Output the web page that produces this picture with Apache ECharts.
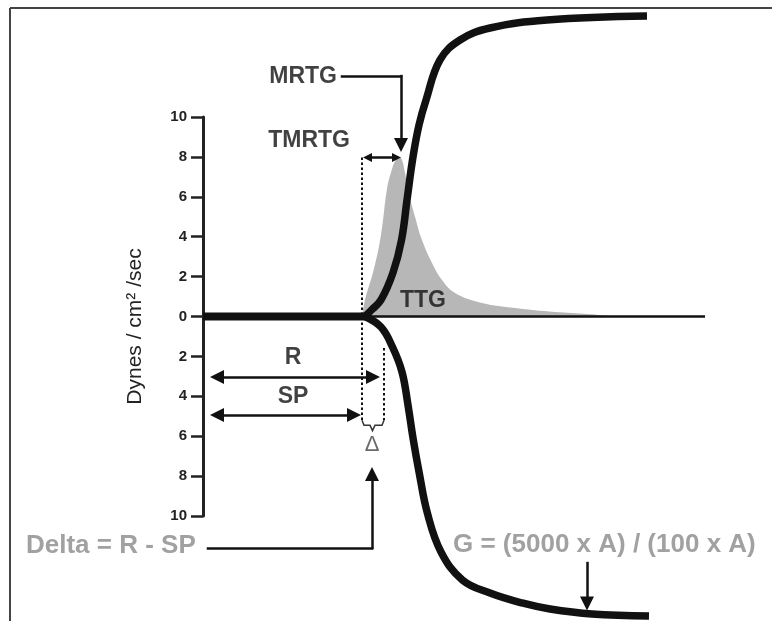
<!DOCTYPE html>
<html><head><meta charset="utf-8">
<script src="https://cdn.jsdelivr.net/npm/echarts@6/dist/echarts.min.js"></script>
<style>html,body{margin:0;padding:0;background:#fff}#main{width:772px;height:621px}</style>
</head><body><div id="main"></div>
<script>
// ---- data (x: arbitrary time units, y: dynes/cm²/sec) ----
const yTickValues = [-10, -8, -6, -4, -2, 0, 2, 4, 6, 8, 10];
const yAxisName = 'Dynes / cm\u00B2 /sec';

const upperCurve = [[32.4,0],[33.8,0.35],[35.6,0.83],[38,2.2],[39.7,3.83],[40.8,5.84],[42,8.0],[43.2,9.6],[44.6,10.85],[47.4,12.86],[51.4,13.86],[57.4,14.46],[68.8,14.86],[88.8,15.06]];
const lowerCurve = [[32.4,0],[35.6,-0.53],[37.9,-1.53],[39.8,-2.78],[41,-4.44],[42,-6.09],[43.2,-7.78],[44.9,-9.88],[47.6,-11.8],[51.9,-13.21],[57.4,-13.86],[63.8,-14.36],[69.4,-14.66],[77.8,-14.91],[89.2,-15.01]];
const ttgCurve = [[31.8,0],[32.4,0.83],[34.2,2.4],[35.6,4.1],[36.8,6.4],[37.7,7.3],[38.6,7.88],[39.2,8.0],[39.8,7.85],[40.4,7.2],[41,6.34],[42.4,5.0],[43.8,3.83],[45.8,2.68],[47.8,1.83],[50.4,1.18],[55.8,0.68],[62.4,0.43],[70.4,0.23],[77,0.13],[82.4,0]];
const baselineThick = [[0,0],[32.4,0]];
const baselineThin = [[32.4,0],[100.4,0]];

// annotation geometry (data units)
const doubleArrows = [ [[2.8,-3.03],[34.0,-3.03]], [[2.8,-4.94],[30.2,-4.94]] ];
const tmrtgArrow = [[32.9,7.97],[38.7,7.97]];
const leaderLines = [ [[27.8,12.05],[39.6,12.05]], [[1.0,-11.6],[33.8,-11.6]] ];
const endArrows = [
  [[39.6,12.05],[39.6,8.6]],
  [[33.8,-11.6],[33.8,-7.9]],
  [[76.8,-12.36],[76.8,-14.39]]
];
const dottedLines = [ [[31.8,7.97],[31.8,-5.2]], [[36.2,-1.58],[36.2,-5.2]] ];
const brace = [[31.8,-5.2],[32.2,-5.45],[33.4,-5.45],[33.9,-5.72],[34.4,-5.45],[35.8,-5.45],[36.2,-5.2]];

const blackLabels = [
  {name:'MRTG', value:[26.8,12.0], pos:'left'},
  {name:'TMRTG', value:[29.4,8.8], pos:'left'},
  {name:'TTG', value:[39.4,0.78], pos:'right'},
  {name:'R', value:[18,-2.08], pos:'inside'},
  {name:'SP', value:[18,-4.04], pos:'inside'}
];
const grayLabels = [
  {name:'Delta = R - SP', value:[-35.4,-11.5], pos:'right'},
  {name:'G = (5000 x A) / (100 x A)', value:[50,-11.45], pos:'right'}
];
const deltaSymbol = [{name:'\u0394', value:[33.8,-6.44], pos:'inside'}];

const FONT = '"Liberation Sans", Arial, Helvetica, sans-serif';
const INK = '#111';

function labelItems(arr) {
  return arr.map(d => ({name:d.name, value:d.value, label:{position:d.pos, distance:0}}));
}

const chart = echarts.init(document.getElementById('main'), null, {renderer:'canvas'});
chart.setOption({
  backgroundColor:'#fff',
  animation:false,
  grid:{left:203, top:117, width:500, height:399},
  xAxis:{type:'value', min:0, max:100, show:false},
  yAxis:{
    type:'value', min:-10, max:10, interval:2,
    axisLine:{show:true, onZero:false, lineStyle:{color:'#222', width:3}},
    axisTick:{show:true, length:12, lineStyle:{color:'#222', width:2.5}},
    axisLabel:{margin:16, formatter:v => String(Math.abs(v)), fontSize:15, fontWeight:'bold', color:'#222', fontFamily:FONT},
    splitLine:{show:false},
    name:yAxisName, nameLocation:'middle', nameGap:57,
    nameTextStyle:{fontSize:21, color:'#222', fontFamily:FONT, padding:[0,20,0,0]}
  },
  graphic:[
    {type:'line', shape:{x1:10, y1:8, x2:772, y2:8}, style:{stroke:'#444', lineWidth:2}, silent:true},
    {type:'line', shape:{x1:10, y1:8, x2:10, y2:621}, style:{stroke:'#444', lineWidth:2}, silent:true}
  ],
  series:[
    {type:'line', data:ttgCurve, smooth:0.4, symbol:'none', clip:false, z:1,
     lineStyle:{width:0}, areaStyle:{color:'#b7b7b7', opacity:1}},
    {type:'line', data:baselineThin, symbol:'none', clip:false, z:3, lineStyle:{color:INK, width:2.5}},
    {type:'line', data:baselineThick, symbol:'none', clip:false, z:3, lineStyle:{color:INK, width:8}},
    {type:'line', data:upperCurve, smooth:0.4, symbol:'none', clip:false, z:4, lineStyle:{color:INK, width:7.5}},
    {type:'line', data:lowerCurve, smooth:0.4, symbol:'none', clip:false, z:4, lineStyle:{color:INK, width:7.5}},
    {type:'lines', coordinateSystem:'cartesian2d', clip:false, z:5,
     symbol:['triangle','triangle'], symbolSize:14,
     lineStyle:{color:INK, width:2.5, opacity:1},
     data:doubleArrows.map(c => ({coords:c}))},
    {type:'lines', coordinateSystem:'cartesian2d', clip:false, z:5,
     symbol:['triangle','triangle'], symbolSize:9,
     lineStyle:{color:INK, width:2.5, opacity:1},
     data:[{coords:tmrtgArrow}]},
    {type:'lines', coordinateSystem:'cartesian2d', clip:false, z:5,
     symbol:['none','none'],
     lineStyle:{color:INK, width:2.5, opacity:1, cap:'square'},
     data:leaderLines.map(c => ({coords:c}))},
    {type:'lines', coordinateSystem:'cartesian2d', clip:false, z:5,
     symbol:['none','triangle'], symbolSize:14,
     lineStyle:{color:INK, width:2.5, opacity:1, cap:'square'},
     data:endArrows.map(c => ({coords:c}))},
    {type:'lines', coordinateSystem:'cartesian2d', clip:false, z:5, symbol:['none','none'],
     lineStyle:{color:INK, width:2, type:[2.5,2.5], opacity:1},
     data:dottedLines.map(c => ({coords:c}))},
    {type:'lines', coordinateSystem:'cartesian2d', polyline:true, clip:false, z:5, symbol:['none','none'],
     lineStyle:{color:'#333', width:1.5, opacity:1},
     data:[{coords:brace}]},
    {type:'scatter', data:labelItems(blackLabels), symbolSize:0.01, clip:false, z:6,
     itemStyle:{color:'rgba(0,0,0,0)'},
     label:{show:true, formatter:'{b}', fontSize:23, fontWeight:'bold', color:INK, fontFamily:FONT}},
    {type:'scatter', data:labelItems(grayLabels), symbolSize:0.01, clip:false, z:6,
     itemStyle:{color:'rgba(0,0,0,0)'},
     label:{show:true, formatter:'{b}', fontSize:26, fontWeight:'bold', color:'#8a8a8a', fontFamily:FONT}},
    {type:'scatter', data:labelItems(deltaSymbol), symbolSize:0.01, clip:false, z:6,
     itemStyle:{color:'rgba(0,0,0,0)'},
     label:{show:true, formatter:'{b}', fontSize:22, color:'#444', fontFamily:FONT}}
  ]
});
</script></body></html>
